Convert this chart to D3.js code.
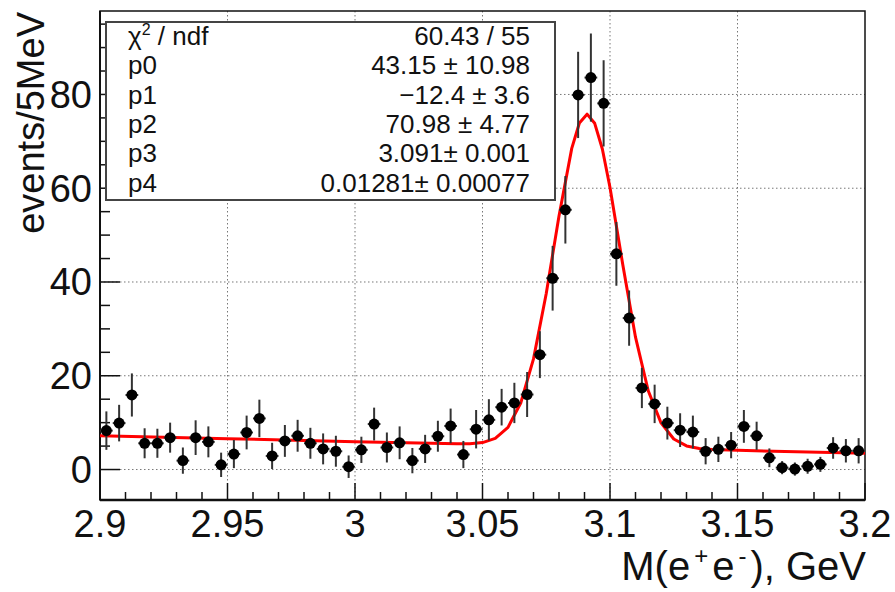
<!DOCTYPE html>
<html>
<head>
<meta charset="utf-8">
<script src="https://cdn.jsdelivr.net/npm/d3@7/dist/d3.min.js"></script>
<style>
	body { margin: 0; background: #fff; }
	svg { display: block; font-family: "Liberation Sans", Arial, Helvetica, sans-serif; }
	.grid line { stroke: #777; stroke-width: 1; stroke-dasharray: 1.5,2.5; }
	.tick-label { font-size: 38px; fill: #111; }
	.axis-title { font-size: 38px; fill: #111; }
	.stats text { font-size: 26px; fill: #111; }
</style>
</head>
<body>
<svg id="chart" width="895" height="592"></svg>
<script>
// histogram: 60 bins of 5 MeV from 2.9 to 3.2 GeV
var binLow = 2.9, binWidth = 0.005;
var counts = [8.3, 9.9, 15.9, 5.6, 5.6, 6.8, 1.9, 6.8, 5.9, 1.0,
	3.3, 7.9, 10.9, 2.9, 6.1, 7.2, 5.6, 4.4, 3.9, 0.6,
	4.2, 9.7, 4.7, 5.7, 1.9, 4.4, 7.1, 9.3, 3.2, 8.6,
	10.6, 13.3, 14.2, 16.0, 24.5, 40.8, 55.4, 79.9, 83.6, 78.1,
	46.0, 32.3, 17.4, 14.0, 9.9, 8.4, 8.0, 3.9, 4.3, 5.2,
	9.2, 7.2, 2.5, 0.4, 0.1, 0.7, 1.1, 4.6, 4.0, 4.0];
var errors = [4.1, 3.9, 4.6, 3.2, 3.1, 3.2, 2.8, 3.7, 3.3, 2.6,
	3.0, 3.6, 4.0, 2.8, 3.4, 3.4, 3.3, 3.3, 3.3, 2.4,
	2.8, 3.5, 3.2, 3.5, 2.7, 3.0, 3.3, 3.7, 2.9, 4.1,
	4.4, 3.9, 4.3, 4.8, 5.0, 6.9, 7.2, 9.2, 9.4, 9.2,
	6.8, 5.9, 4.3, 4.1, 3.5, 3.6, 3.5, 2.8, 2.7, 2.8,
	3.5, 3.0, 2.0, 1.4, 1.4, 1.6, 1.6, 2.3, 2.5, 2.7];

// fit curve as drawn (x in GeV, y in events)
var fitX = [2.9, 2.95, 3.0, 3.03, 3.04, 3.045, 3.05, 3.055, 3.06, 3.065,
	3.07, 3.075, 3.08, 3.085, 3.088, 3.091, 3.094, 3.097, 3.1, 3.105,
	3.11, 3.115, 3.12, 3.125, 3.13, 3.135, 3.14, 3.15, 3.2];
var fitY = [7.19, 6.57, 5.95, 5.58, 5.48, 5.5, 5.75, 6.64, 9.0, 14.19,
	23.6, 37.56, 54.06, 68.5, 73.92, 75.8, 73.84, 68.36, 60.17, 43.72,
	28.22, 16.79, 9.94, 6.5, 5.03, 4.47, 4.26, 4.09, 3.47];

var xTicks = [2.9, 2.95, 3.0, 3.05, 3.1, 3.15, 3.2];
var xTickLabels = ["2.9", "2.95", "3", "3.05", "3.1", "3.15", "3.2"];
var yTicks = [0, 20, 40, 60, 80];

var statNames = ["p0", "p1", "p2", "p3", "p4"];
var statValues = ["43.15 \u00b1 10.98", "\u221212.4 \u00b1 3.6", "70.98 \u00b1 4.77", "3.091\u00b1 0.001", "0.01281\u00b1 0.00077"];
var chi2Str = "60.43 / 55";

;(function(d3) {
	"use strict";

	var frame = { left: 100, top: 11, right: 865, bottom: 500 };

	var svg = d3.select("#chart");
	svg.append("rect").attr("width", 895).attr("height", 592).attr("fill", "#fff");

	var x = d3.scaleLinear().domain([2.9, 3.2]).range([frame.left, frame.right]);
	var y = d3.scaleLinear().domain([-6.5, 97.8]).range([frame.bottom, frame.top]);

	// grid
	var grid = svg.append("g").attr("class", "grid");
	grid.selectAll(".gx").data(xTicks.slice(1, -1)).enter().append("line")
		.attr("x1", function(d) { return x(d); }).attr("x2", function(d) { return x(d); })
		.attr("y1", frame.top).attr("y2", frame.bottom);
	grid.selectAll(".gy").data(yTicks).enter().append("line")
		.attr("x1", frame.left).attr("x2", frame.right)
		.attr("y1", function(d) { return y(d); }).attr("y2", function(d) { return y(d); });

	// frame
	svg.append("rect")
		.attr("x", frame.left).attr("y", frame.top)
		.attr("width", frame.right - frame.left).attr("height", frame.bottom - frame.top)
		.attr("fill", "none").attr("stroke", "#111").attr("stroke-width", 1.5);

	// ticks, drawn inward like ROOT does
	var ticks = svg.append("g").attr("stroke", "#111").attr("stroke-width", 1.5);
	var xMinor = x.ticks(30);
	ticks.selectAll(".tx").data(xMinor).enter().append("line")
		.attr("x1", function(d) { return x(d); }).attr("x2", function(d) { return x(d); })
		.attr("y1", frame.bottom)
		.attr("y2", function(d, i) { return frame.bottom - (i % 5 === 0 ? 17 : 8); });
	var yMinor = d3.range(0, 96, 5);
	ticks.selectAll(".ty").data(yMinor).enter().append("line")
		.attr("y1", function(d) { return y(d); }).attr("y2", function(d) { return y(d); })
		.attr("x1", frame.left)
		.attr("x2", function(d) { return frame.left + (d % 20 === 0 ? 20 : 10); });
	svg.append("line")
		.attr("x1", frame.left).attr("x2", frame.right)
		.attr("y1", frame.bottom).attr("y2", frame.bottom)
		.attr("stroke", "#111").attr("stroke-width", 2.5);
	svg.append("line")
		.attr("x1", frame.left).attr("x2", frame.left)
		.attr("y1", frame.top).attr("y2", frame.bottom)
		.attr("stroke", "#111").attr("stroke-width", 2);

	// tick labels
	svg.selectAll(".xl").data(xTicks).enter().append("text")
		.attr("class", "tick-label")
		.attr("x", function(d) { return x(d); })
		.attr("y", 537)
		.attr("text-anchor", "middle")
		.text(function(d, i) { return xTickLabels[i]; });
	svg.selectAll(".yl").data(yTicks).enter().append("text")
		.attr("class", "tick-label")
		.attr("x", 92)
		.attr("y", function(d) { return y(d) + 13.5; })
		.attr("text-anchor", "end")
		.text(function(d) { return d; });

	// axis titles (superscripts get a little room, as in TLatex)
	var xt = svg.append("text").attr("class", "axis-title")
		.attr("x", 866).attr("y", 580).attr("text-anchor", "end")
		.style("font-size", "40px");
	xt.append("tspan").text("M(e");
	xt.append("tspan").attr("dx", 4).attr("dy", -16).style("font-size", "24px").text("+");
	xt.append("tspan").attr("dx", 4).attr("dy", 16).text("e");
	xt.append("tspan").attr("dx", 4).attr("dy", -16).style("font-size", "24px").text("-");
	xt.append("tspan").attr("dx", 4).attr("dy", 16).text("), GeV");

	svg.append("text").attr("class", "axis-title")
		.attr("transform", "translate(44,12) rotate(-90)")
		.attr("text-anchor", "end")
		.text("events/5MeV");

	// fit function
	var line = d3.line()
		.x(function(d) { return x(d[0]); })
		.y(function(d) { return y(d[1]); });
	svg.append("path")
		.datum(d3.zip(fitX, fitY))
		.attr("d", line)
		.attr("fill", "none")
		.attr("stroke", "#f00")
		.attr("stroke-width", 3)
		.attr("stroke-linejoin", "round");

	// data points with errors
	var points = counts.map(function(c, i) {
		return { x: binLow + (i + 0.5) * binWidth, v: c, e: errors[i] };
	});
	var halfBin = (x(binWidth) - x(0)) / 2;
	var pts = svg.append("g").selectAll("g").data(points).enter().append("g");
	pts.append("line")
		.attr("x1", function(d) { return x(d.x); }).attr("x2", function(d) { return x(d.x); })
		.attr("y1", function(d) { return y(d.v - d.e); })
		.attr("y2", function(d) { return y(d.v + d.e); })
		.attr("stroke", "#333").attr("stroke-width", 2);
	pts.append("line")
		.attr("x1", function(d) { return x(d.x) - halfBin; })
		.attr("x2", function(d) { return x(d.x) + halfBin; })
		.attr("y1", function(d) { return y(d.v); }).attr("y2", function(d) { return y(d.v); })
		.attr("stroke", "#333").attr("stroke-width", 2);
	pts.append("circle")
		.attr("cx", function(d) { return x(d.x); })
		.attr("cy", function(d) { return y(d.v); })
		.attr("r", 5.5)
		.attr("fill", "#000");

	// stats box
	var stats = svg.append("g").attr("class", "stats");
	stats.append("rect")
		.attr("x", 106).attr("y", 22).attr("width", 449).attr("height", 178)
		.attr("fill", "#fff").attr("stroke", "#444").attr("stroke-width", 2);
	var rowY = function(i) { return 45 + i * 29.3; };
	var chi = stats.append("text").attr("x", 128).attr("y", rowY(0));
	chi.append("tspan").text("\u03c7");
	chi.append("tspan").attr("dy", -10).style("font-size", "16px").text("2");
	chi.append("tspan").attr("dy", 10).text(" / ndf");
	stats.append("text").attr("x", 530).attr("y", rowY(0)).attr("text-anchor", "end").text(chi2Str);
	statNames.forEach(function(name, i) {
		stats.append("text").attr("x", 128).attr("y", rowY(i + 1)).text(name);
		stats.append("text").attr("x", 530).attr("y", rowY(i + 1)).attr("text-anchor", "end").text(statValues[i]);
	});
})(d3);
</script>
</body>
</html>
